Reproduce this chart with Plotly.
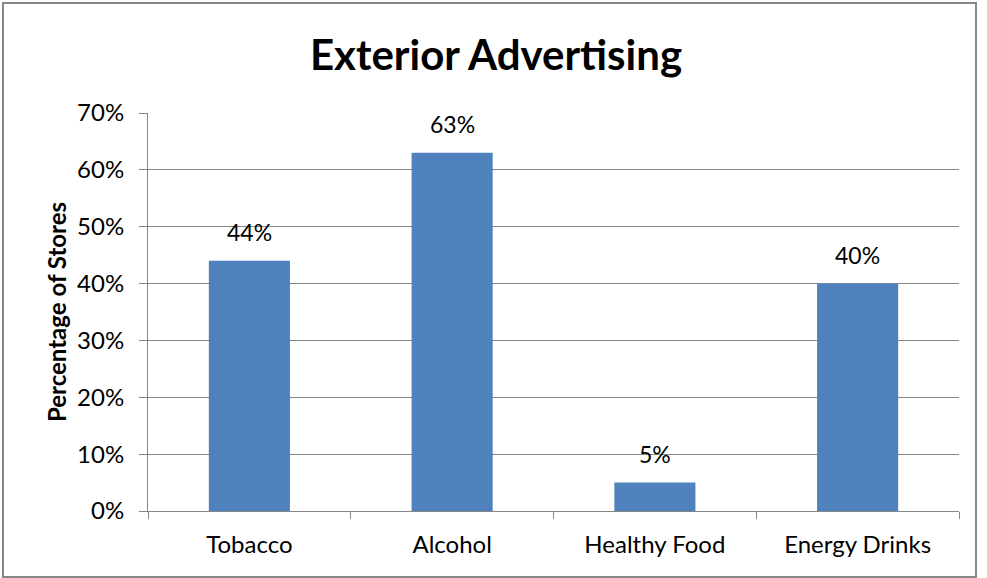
import plotly.graph_objects as go

categories = ["Tobacco", "Alcohol", "Healthy Food", "Energy Drinks"]
values = [0.44, 0.63, 0.05, 0.40]
labels = ["44%", "63%", "5%", "40%"]

FONT = "Lato, Open Sans, sans-serif"
L, R, T, B = 148, 28, 113, 67
W, H = 987, 578
pw, ph = W - L - R, H - T - B

fig = go.Figure(go.Bar(
    x=categories, y=values,
    marker=dict(color="#4F81BD", line=dict(width=0)),
    hoverinfo="x+y",
))

for c, v, t in zip(categories, values, labels):
    fig.add_annotation(x=c, y=v, text=t, showarrow=False, yanchor="bottom",
                       yshift=13, font=dict(size=23, color="black", family=FONT))

fig.update_layout(
    width=W, height=H,
    margin=dict(l=L, r=R, t=T, b=B),
    paper_bgcolor="white", plot_bgcolor="white",
    bargap=0.6,
    showlegend=False,
    title=dict(text="<b>Exterior Advertising</b>", x=496 / W, xanchor="center",
               y=1 - 55 / H, yanchor="middle",
               font=dict(size=42, color="black", family=FONT)),
    font=dict(family=FONT, color="black"),
)
fig.update_xaxes(
    showline=True, linecolor="#868686", linewidth=1,
    ticks="outside", tickson="boundaries", ticklen=7, tickcolor="#868686",
    tickfont=dict(size=24, color="black", family=FONT),
    ticklabelstandoff=12,
    showgrid=False,
)
fig.update_yaxes(
    range=[0, 0.7], dtick=0.1, tickformat=".0%",
    showline=True, linecolor="#868686", linewidth=1,
    ticks="outside", ticklen=8, tickcolor="#868686",
    showgrid=True, gridcolor="#868686", gridwidth=1,
    tickfont=dict(size=24, color="black", family=FONT),
    ticklabelstandoff=10,
    title=dict(text="<b>Percentage of Stores</b>", standoff=3,
               font=dict(size=24, color="black", family=FONT)),
    zeroline=False,
)
# outer chart border
fig.add_shape(type="rect", xref="paper", yref="paper",
              x0=(3 - L) / pw, x1=(976 - L) / pw,
              y0=(H - B - 577) / ph, y1=(H - B - 3) / ph,
              line=dict(color="#868686", width=2), fillcolor="rgba(0,0,0,0)",
              layer="below")

fig.write_html("out.html", config={"displayModeBar": False},
               post_script="document.body.style.margin='0';document.body.style.overflow='hidden';")
